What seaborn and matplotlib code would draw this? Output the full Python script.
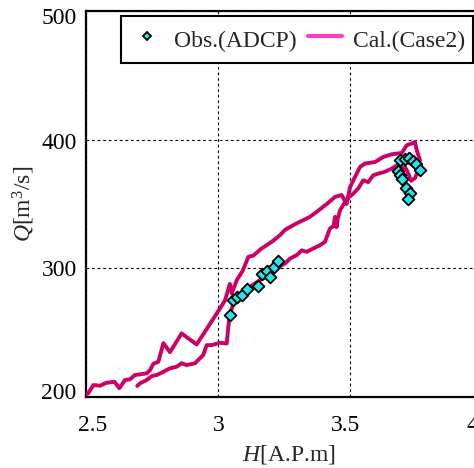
import numpy as np
import pandas as pd
import matplotlib
matplotlib.use("Agg")
import matplotlib.pyplot as plt
from matplotlib.lines import Line2D
from matplotlib.legend_handler import HandlerLine2D
from matplotlib.transforms import ScaledTranslation
import seaborn as sns

# ---- data ----
# calculated H-Q loop (rising branch then falling branch)
H_rise = [2.500, 2.510, 2.530, 2.555, 2.580, 2.610, 2.628, 2.650, 2.669, 2.687,
          2.713, 2.732, 2.744, 2.757, 2.776, 2.795, 2.820, 2.864, 2.921, 2.959,
          2.997, 3.028, 3.047, 3.054, 3.073, 3.095, 3.117, 3.136, 3.167, 3.205,
          3.237, 3.256, 3.300, 3.350, 3.376, 3.414, 3.445, 3.470, 3.489, 3.502,
          3.521, 3.540, 3.559, 3.597, 3.628, 3.660, 3.698, 3.717, 3.736, 3.748]
Q_rise = [202.0, 203.0, 209.5, 209.0, 211.3, 212.0, 207.0, 213.4, 214.0, 217.3,
          218.0, 218.6, 221.0, 226.0, 227.6, 242.0, 235.0, 249.6, 241.0, 253.0,
          265.0, 275.0, 288.0, 280.6, 291.0, 298.0, 309.0, 310.0, 315.5, 320.6,
          325.8, 330.0, 335.0, 340.0, 344.0, 350.0, 355.5, 357.0, 350.0, 363.0,
          371.0, 378.8, 381.4, 382.6, 386.5, 388.6, 389.6, 395.6, 397.0, 398.0]
H_fall = [3.755, 3.767, 3.760, 3.748, 3.733, 3.722, 3.710, 3.698, 3.679, 3.660,
          3.634, 3.609, 3.590, 3.571, 3.552, 3.533, 3.514, 3.496, 3.483, 3.464,
          3.455, 3.451, 3.445, 3.440, 3.426, 3.407, 3.388, 3.363, 3.338, 3.319,
          3.300, 3.275, 3.256, 3.230, 3.199, 3.161, 3.123, 3.098, 3.066, 3.047,
          3.041, 3.035, 3.009, 2.978, 2.959, 2.946, 2.927, 2.915, 2.883, 2.864,
          2.845, 2.820, 2.795, 2.770, 2.751, 2.732, 2.706, 2.696]
Q_fall = [391.7, 384.0, 376.0, 370.0, 368.0, 374.0, 378.8, 378.0, 380.0, 377.5,
          375.0, 373.6, 372.3, 367.0, 368.4, 362.0, 358.0, 355.0, 351.6, 345.0,
          338.0, 332.0, 340.0, 333.0, 331.0, 320.6, 318.0, 315.5, 312.9, 314.0,
          310.3, 307.7, 303.9, 301.0, 296.0, 291.0, 285.7, 281.9, 275.4, 265.0,
          254.7, 241.8, 242.3, 240.5, 240.5, 232.8, 229.0, 226.4, 225.0, 226.4,
          223.7, 222.5, 219.8, 217.3, 216.5, 213.4, 210.8, 208.8]

# observed (ADCP)
H_obs = [3.047, 3.058, 3.075, 3.093, 3.112, 3.152, 3.168, 3.186, 3.200, 3.214,
         3.231, 3.691, 3.711, 3.727, 3.742, 3.751, 3.767, 3.685, 3.691, 3.697,
         3.715, 3.731, 3.721]
Q_obs = [263.5, 275.7, 278.0, 279.2, 284.3, 286.0, 296.0, 298.0, 293.3, 301.0,
         305.6, 384.0, 385.0, 385.7, 383.0, 381.4, 376.5, 375.5, 372.5, 369.5,
         362.8, 358.7, 353.8]

x_ticks = [2.5, 3, 3.5, 4]
x_tick_labels = ["2.5", "3", "3.5", "4"]
y_ticks = [200, 300, 400, 500]
y_tick_labels = ["200", "300", "400", "500"]
legend_labels = ["Obs.(ADCP)", "Cal.(Case2)"]

calc = pd.DataFrame({"H": H_rise + H_fall, "Q": Q_rise + Q_fall})
obs = pd.DataFrame({"H": H_obs, "Q": Q_obs})

# ---- style ----
sns.set_theme(style="white")
plt.rcParams["font.family"] = ["Liberation Serif", "DejaVu Serif"]
plt.rcParams["mathtext.fontset"] = "custom"
plt.rcParams["mathtext.rm"] = "Liberation Serif"
plt.rcParams["mathtext.it"] = "Liberation Serif:italic"

line_color = "#cc0066"
legend_line_color = "#ff3cc8"
marker_face = "#22e8ee"

fig = plt.figure(figsize=(4.74, 4.68), dpi=100)
ax = fig.add_axes([85.5 / 474, (468 - 397.3) / 468, 396 / 474, 386.6 / 468])

sns.lineplot(data=calc, x="H", y="Q", sort=False, estimator=None,
             color=line_color, lw=2.8, ax=ax, zorder=3)
sns.scatterplot(data=obs, x="H", y="Q", marker="D", s=36,
                color=marker_face, edgecolor="black", linewidth=1.3,
                ax=ax, zorder=4)

ax.set_xlim(2.5, 4.0)
ax.set_ylim(200, 500)
ax.set_xticks(x_ticks)
ax.set_xticklabels(x_tick_labels)
ax.set_yticks(y_ticks)
ax.set_yticklabels(y_tick_labels)
ax.tick_params(axis="both", length=0, labelsize=17, colors="black")
ax.tick_params(axis="x", pad=12.5)
ax.tick_params(axis="y", pad=6.3)

# the reference's tick labels sit on a slightly compressed scale
x_label_shift_px = [7.3, 1.7, -3.7, -9.5]
y_label_shift_px = [6.5, 0.7, -1.1, -5.1]
for lab, dx in zip(ax.get_xticklabels(), x_label_shift_px):
    lab.set_transform(lab.get_transform() + ScaledTranslation(dx / 100, 0, fig.dpi_scale_trans))
for lab, dy in zip(ax.get_yticklabels(), y_label_shift_px):
    lab.set_transform(lab.get_transform() + ScaledTranslation(0, dy / 100, fig.dpi_scale_trans))

ax.grid(True, color="black", linestyle=(0, (2.5, 2.5)), linewidth=0.8)
ax.set_axisbelow(True)
for sp in ax.spines.values():
    sp.set_color("black")
    sp.set_linewidth(1.6)

ax.set_xlabel(r"$H$[A.P.m]", fontsize=17)
ax.xaxis.set_label_coords(0.5126, -0.118)
ax.set_ylabel(r"$Q$[m$^{3}$/s]", fontsize=17, labelpad=3)

handles = [
    Line2D([], [], linestyle="none", marker="D", markersize=4.3,
           markerfacecolor=marker_face, markeredgecolor="black",
           markeredgewidth=1.3),
    Line2D([], [], color=legend_line_color, lw=3),
]
hmap = {h: HandlerLine2D(ypad=0.12) for h in handles}
leg = ax.legend(handles, legend_labels, ncol=2, loc="upper right",
                bbox_to_anchor=(473 / 474, 1 - 16 / 468),
                bbox_transform=fig.transFigure, borderaxespad=0,
                fontsize=17, frameon=True, fancybox=False,
                edgecolor="black", framealpha=1,
                handlelength=1.45, handletextpad=0.45, columnspacing=0.45,
                handleheight=1.6, borderpad=0.35, handler_map=hmap)
leg.get_frame().set_linewidth(1.5)

fig.savefig("out.png", dpi=100)
